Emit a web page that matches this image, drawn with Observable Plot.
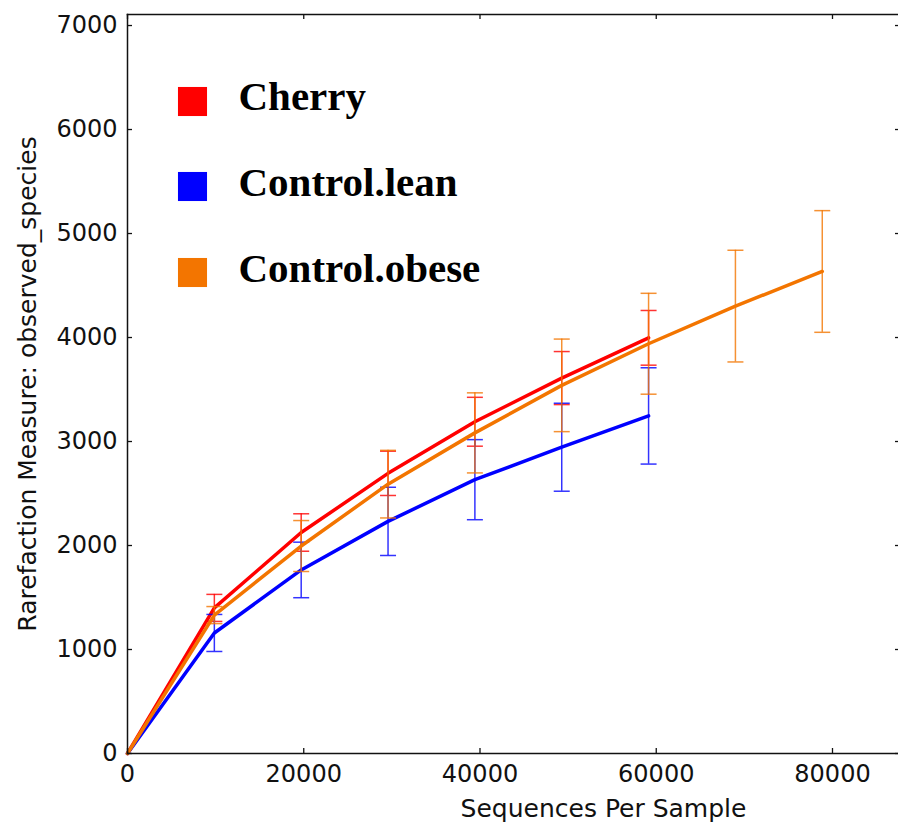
<!DOCTYPE html>
<html><head><meta charset="utf-8">
<script src="https://cdn.jsdelivr.net/npm/d3@7"></script>
<script src="https://cdn.jsdelivr.net/npm/@observablehq/plot@0.6"></script>
<style>html,body{margin:0;padding:0;background:#fff;overflow:hidden;width:898px;height:824px}</style>
</head><body><div id="chart"></div>
<script>
// ---- data ----
const seriesNames = ["Cherry", "Control.lean", "Control.obese"];
const seriesColors = ["#ff0000", "#0000ff", "#f37500"];
const depths = [0, 9855, 19710, 29565, 39420, 49275, 59130, 68985, 78840];
const cherryMean = [0, 1400, 2125, 2694, 3190, 3610, 3997];
const cherrySd   = [0, 130, 180, 213, 235, 255, 263];
const leanMean   = [0, 1159, 1765, 2232, 2633, 2945, 3246];
const leanSd     = [0, 178, 267, 328, 385, 423, 463];
const obeseMean  = [0, 1331, 1995, 2590, 3083, 3540, 3940, 4302, 4635];
const obeseSd    = [0, 82, 245, 325, 385, 445, 485, 537, 585];
const xTicks = [0, 20000, 40000, 60000, 80000];
const yTicks = [0, 1000, 2000, 3000, 4000, 5000, 6000, 7000];
const xLabel = "Sequences Per Sample";
const yLabel = "Rarefaction Measure: observed_species";

const means = [cherryMean, leanMean, obeseMean];
const sds = [cherrySd, leanSd, obeseSd];
const rows = [];
seriesNames.forEach((s, k) => {
  means[k].forEach((m, i) => rows.push({series: s, x: depths[i], y: m, lo: m - sds[k][i], hi: m + sds[k][i], sd: sds[k][i]}));
});

const capSymbol = {draw(ctx) { ctx.moveTo(-8, 0); ctx.lineTo(8, 0); }};

const W = 898, H = 824, ML = 127, MR = 0, MT = 14, MB = 71;
const FW = W - ML - MR, FH = H - MT - MB, TL = 5;

const seriesMarks = [];
seriesNames.forEach((s, k) => {
  const d = rows.filter(r => r.series === s);
  const eb = d.filter(r => r.sd > 0);
  const c = seriesColors[k];
  seriesMarks.push(
    Plot.ruleX(eb, {x: "x", y1: "lo", y2: "hi", stroke: c, strokeWidth: 1.5, strokeOpacity: 0.8}),
    Plot.dot(eb, {x: "x", y: "lo", symbol: capSymbol, fill: "none", stroke: c, strokeWidth: 1.5, strokeOpacity: 0.8}),
    Plot.dot(eb, {x: "x", y: "hi", symbol: capSymbol, fill: "none", stroke: c, strokeWidth: 1.5, strokeOpacity: 0.8}),
    Plot.line(d, {x: "x", y: "y", stroke: c, strokeWidth: 3.5})
  );
});

const legendSq = [101, 186, 272];
const legendTx = [82, 168, 254];
const legendMarks = [];
seriesNames.forEach((s, k) => {
  legendMarks.push(
    Plot.dot([s], {frameAnchor: "top-left", dx: 65, dy: legendSq[k] - MT, symbol: "square", r: 16.4, fill: seriesColors[k], stroke: "none"}),
    Plot.text([s], {text: d => d, frameAnchor: "top-left", dx: 111, dy: legendTx[k], textAnchor: "start", lineAnchor: "middle",
      fontSize: 41, fontWeight: "bold", fontFamily: "Liberation Serif", fill: "#000"})
  );
});

const chart = Plot.plot({
  width: W, height: H,
  marginLeft: ML, marginRight: MR, marginTop: MT, marginBottom: MB,
  x: {domain: [0, 87490], axis: null},
  y: {domain: [0, 7106], axis: null},
  style: {fontFamily: "DejaVu Sans", background: "white", color: "#111"},
  marks: [
    ...seriesMarks,
    ...legendMarks,
    Plot.frame({anchor: "left", stroke: "#111", strokeWidth: 1.5}),
    Plot.frame({anchor: "top", stroke: "#111", strokeWidth: 1.5}),
    Plot.frame({anchor: "bottom", stroke: "#111", strokeWidth: 1.5}),
    Plot.tickX(xTicks, {x: d => d, insetTop: FH - TL, stroke: "#111", strokeWidth: 1.3}),
    Plot.tickX(xTicks, {x: d => d, insetBottom: FH - TL, stroke: "#111", strokeWidth: 1.3}),
    Plot.tickY(yTicks, {y: d => d, insetRight: FW - TL, stroke: "#111", strokeWidth: 1.3}),
    Plot.tickY(yTicks, {y: d => d, insetLeft: FW - 3, stroke: "#111", strokeWidth: 1.3}),
    Plot.axisX({ticks: xTicks, tickSize: 0, tickPadding: 11, fontSize: 24, tickFormat: d => String(d), label: null}),
    Plot.axisY({ticks: yTicks, tickSize: 0, tickPadding: 10, fontSize: 24, tickFormat: d => String(d), label: null}),
    Plot.text([xLabel], {text: d => d, frameAnchor: "bottom-left", dx: 476, dy: 55, textAnchor: "middle", lineAnchor: "middle", fontSize: 25, fill: "#111"}),
    Plot.text([yLabel], {text: d => d, frameAnchor: "left", dx: -100, rotate: -90, textAnchor: "middle", lineAnchor: "middle", fontSize: 25, fill: "#111"})
  ]
});
document.getElementById("chart").append(chart);
</script>
</body></html>
